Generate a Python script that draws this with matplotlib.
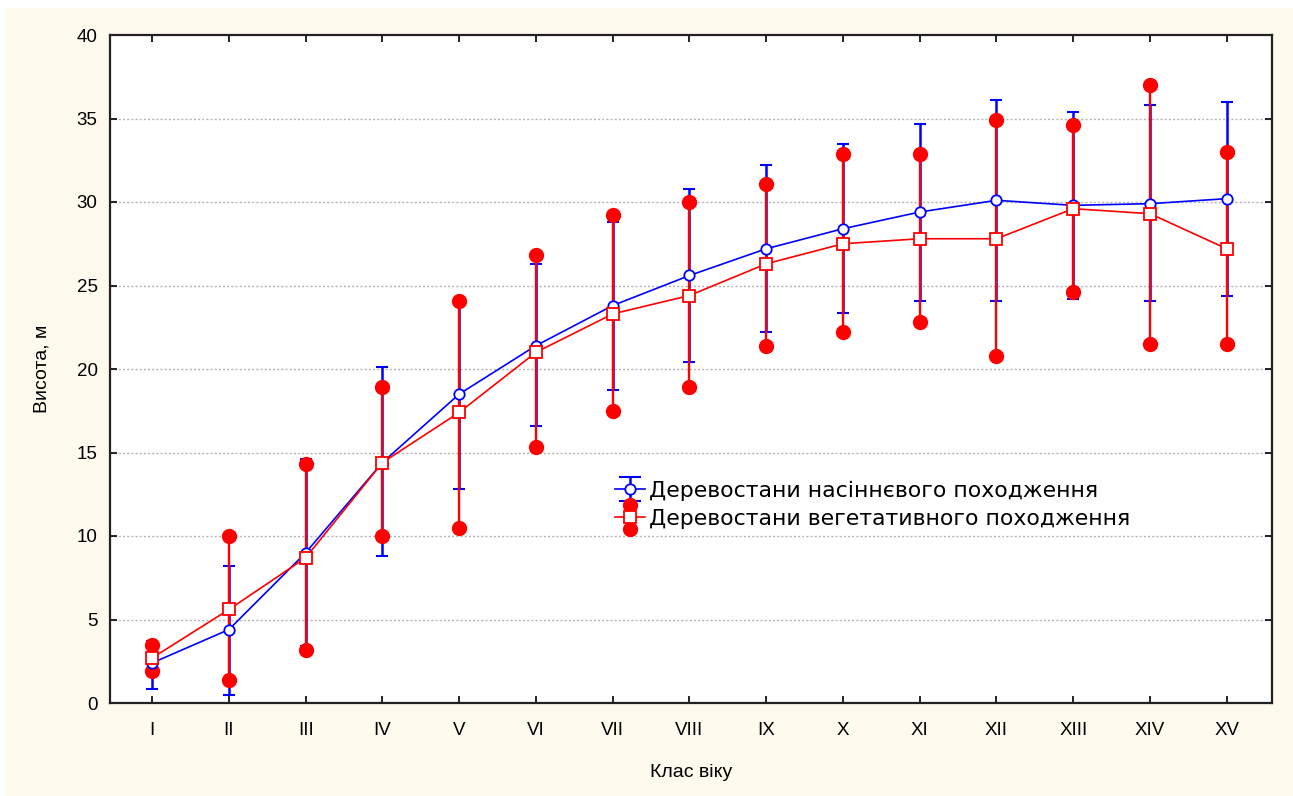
import matplotlib
matplotlib.use("Agg")
import matplotlib.pyplot as plt
from matplotlib.lines import Line2D
from matplotlib.legend_handler import HandlerBase
from matplotlib.patches import Rectangle

plt.rcParams['font.family'] = ['Liberation Sans', 'DejaVu Sans']

categories = ["I", "II", "III", "IV", "V", "VI", "VII", "VIII", "IX", "X",
              "XI", "XII", "XIII", "XIV", "XV"]

seed_mean = [2.4, 4.4, 9.0, 14.4, 18.5, 21.4, 23.8, 25.6, 27.2, 28.4, 29.4, 30.1, 29.8, 29.9, 30.2]
seed_low = [0.85, 0.5, 3.4, 8.8, 12.8, 16.6, 18.75, 20.4, 22.2, 23.35, 24.05, 24.07, 24.2, 24.07, 24.4]
seed_high = [3.7, 8.2, 14.6, 20.1, 24.2, 26.3, 28.8, 30.8, 32.2, 33.5, 34.7, 36.1, 35.4, 35.8, 36.0]

veg_mean = [2.7, 5.6, 8.7, 14.4, 17.4, 21.0, 23.3, 24.4, 26.3, 27.5, 27.8, 27.8, 29.6, 29.3, 27.2]
veg_low = [1.9, 1.4, 3.2, 10.0, 10.5, 15.3, 17.5, 18.9, 21.4, 22.2, 22.8, 20.8, 24.6, 21.5, 21.5]
veg_high = [3.5, 10.0, 14.3, 18.9, 24.1, 26.8, 29.2, 30.0, 31.1, 32.9, 32.9, 34.9, 34.6, 37.0, 33.0]

label_seed = "Деревостани насіннєвого походження"
label_veg = "Деревостани вегетативного походження"

BLUE = "#0000FF"
RED = "#FF0000"
CREAM = "#FFFAEE"

fig = plt.figure(figsize=(12.93, 7.96), dpi=100, facecolor="white")
fig.patches.append(Rectangle((6 / 1293, 0), 1 - 6 / 1293, 1 - 8 / 796,
                             transform=fig.transFigure, facecolor=CREAM,
                             edgecolor="none", zorder=-10))
ax = fig.add_axes([110 / 1293, 1 - 703 / 796, (1272 - 110) / 1293, (703 - 35) / 796])
ax.set_facecolor("white")

x = list(range(1, len(categories) + 1))

# blue error bars (with caps)
yerr_seed = [[m - l for m, l in zip(seed_mean, seed_low)],
             [h - m for m, h in zip(seed_mean, seed_high)]]
ax.errorbar(x, seed_mean, yerr=yerr_seed, fmt='none', ecolor=BLUE,
            elinewidth=1.8, capsize=4.5, capthick=1.5, zorder=2)

# red whiskers with filled circle ends
ax.vlines(x, veg_low, veg_high, colors=RED, linewidth=1.7, zorder=3)
ax.plot(x, veg_low, 'o', color=RED, markersize=10, zorder=3.5, linestyle='none')
ax.plot(x, veg_high, 'o', color=RED, markersize=10, zorder=3.5, linestyle='none')

# mean lines
ax.plot(x, seed_mean, '-', color=BLUE, linewidth=1.2, marker='o', markersize=7.5,
        markerfacecolor='white', markeredgecolor=BLUE, markeredgewidth=1.3, zorder=4)
ax.plot(x, veg_mean, '-', color=RED, linewidth=1.2, marker='s', markersize=9,
        markerfacecolor='white', markeredgecolor=RED, markeredgewidth=1.3, zorder=5)

ax.set_xlim(0.45, 15.59)
ax.set_ylim(0, 40)
ax.set_xticks(x)
ax.set_xticklabels(categories)
ax.set_yticks(range(0, 41, 5))
ax.tick_params(axis='both', direction='in', length=5, width=1.2,
               top=True, right=True, labelsize=13.5, colors='black')
ax.tick_params(axis='x', pad=14)
ax.tick_params(axis='y', pad=9)
for sp in ax.spines.values():
    sp.set_linewidth(1.6)
    sp.set_color('#222222')

for yv in range(5, 40, 5):
    ax.axhline(yv, color='#b4b4b4', linewidth=1.0, linestyle=(0, (1.5, 1.5)), zorder=0.5)

ax.set_xlabel("Клас віку", fontsize=14, labelpad=18)
ax.set_ylabel("Висота, м", fontsize=14, labelpad=19)


class SeedHandler(HandlerBase):
    def create_artists(self, legend, orig_handle, xdescent, ydescent, width, height, fontsize, trans):
        cx = width / 2 - xdescent
        cy = height / 2 - ydescent
        h = height * 0.8
        arts = [
            Line2D([cx, cx], [cy - h, cy + h], color=BLUE, lw=1.8),
            Line2D([cx - 7, cx + 7], [cy + h, cy + h], color=BLUE, lw=1.5),
            Line2D([cx - 7, cx + 7], [cy - h, cy - h], color=BLUE, lw=1.5),
            Line2D([cx - 11, cx + 11], [cy, cy], color=BLUE, lw=1.2),
            Line2D([cx], [cy], marker='o', markersize=7.5, markerfacecolor='white',
                   markeredgecolor=BLUE, markeredgewidth=1.3, linestyle='none'),
        ]
        for a in arts:
            a.set_transform(trans)
        return arts


class VegHandler(HandlerBase):
    def create_artists(self, legend, orig_handle, xdescent, ydescent, width, height, fontsize, trans):
        cx = width / 2 - xdescent
        cy = height / 2 - ydescent
        h = height * 0.8
        arts = [
            Line2D([cx, cx], [cy - h, cy + h], color=RED, lw=1.8),
            Line2D([cx, cx], [cy - h, cy + h], marker='o', markersize=10, color=RED,
                   linestyle='none'),
            Line2D([cx - 11, cx + 11], [cy, cy], color=RED, lw=1.2),
            Line2D([cx], [cy], marker='s', markersize=9, markerfacecolor='white',
                   markeredgecolor=RED, markeredgewidth=1.3, linestyle='none'),
        ]
        for a in arts:
            a.set_transform(trans)
        return arts


h_seed = Line2D([], [], color=BLUE)
h_veg = Line2D([], [], color=RED)
leg = ax.legend([h_seed, h_veg], [label_seed, label_veg],
                handler_map={h_seed: SeedHandler(), h_veg: VegHandler()},
                loc='center left', bbox_to_anchor=(0.437, 0.297), frameon=False,
                prop={'family': ['DejaVu Sans'], 'size': 15.8},
                handlelength=1.1, handletextpad=0.33, labelspacing=0.38,
                borderaxespad=0, borderpad=0)
leg.set_zorder(10)

fig.savefig("out.png", dpi=100, facecolor=fig.get_facecolor())
